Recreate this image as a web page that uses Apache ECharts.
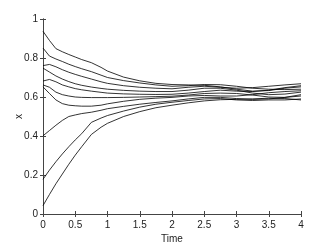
<!DOCTYPE html>
<html>
<head>
<meta charset="utf-8">
<script src="https://cdn.jsdelivr.net/npm/echarts@6/dist/echarts.min.js"></script>
<style>html,body{margin:0;padding:0;background:#fff}#c{width:332px;height:249px}</style>
</head>
<body>
<div id="c"></div>
<script>
var times = [0, 0.1, 0.2, 0.3, 0.4, 0.5, 0.6, 0.75, 0.9, 1, 1.25, 1.5, 1.75, 2, 2.25, 2.5, 2.75, 3, 3.25, 3.5, 3.75, 4];
var c1  = [0.937, 0.890, 0.848, 0.832, 0.818, 0.805, 0.792, 0.776, 0.752, 0.733, 0.702, 0.683, 0.670, 0.664, 0.662, 0.660, 0.652, 0.640, 0.630, 0.633, 0.645, 0.652];
var c2  = [0.851, 0.810, 0.795, 0.782, 0.768, 0.756, 0.745, 0.730, 0.712, 0.700, 0.684, 0.672, 0.662, 0.655, 0.658, 0.664, 0.663, 0.655, 0.645, 0.640, 0.638, 0.640];
var c3  = [0.761, 0.767, 0.755, 0.740, 0.727, 0.716, 0.706, 0.692, 0.678, 0.670, 0.658, 0.650, 0.645, 0.642, 0.650, 0.655, 0.650, 0.645, 0.648, 0.655, 0.662, 0.668];
var c4  = [0.748, 0.728, 0.708, 0.692, 0.679, 0.668, 0.660, 0.651, 0.644, 0.640, 0.634, 0.630, 0.628, 0.628, 0.635, 0.645, 0.645, 0.635, 0.620, 0.612, 0.615, 0.625];
var c5  = [0.682, 0.690, 0.678, 0.662, 0.652, 0.643, 0.637, 0.630, 0.624, 0.620, 0.616, 0.614, 0.613, 0.614, 0.620, 0.628, 0.635, 0.630, 0.628, 0.635, 0.648, 0.658];
var c6  = [0.662, 0.650, 0.625, 0.612, 0.605, 0.600, 0.598, 0.597, 0.597, 0.597, 0.598, 0.600, 0.602, 0.604, 0.610, 0.618, 0.620, 0.618, 0.610, 0.600, 0.598, 0.605];
var c7  = [0.652, 0.618, 0.585, 0.566, 0.558, 0.555, 0.553, 0.553, 0.558, 0.565, 0.578, 0.588, 0.594, 0.598, 0.605, 0.608, 0.605, 0.605, 0.612, 0.622, 0.628, 0.632];
var c8  = [0.401, 0.428, 0.455, 0.480, 0.500, 0.508, 0.515, 0.522, 0.532, 0.540, 0.552, 0.563, 0.572, 0.580, 0.590, 0.598, 0.598, 0.592, 0.588, 0.590, 0.598, 0.612];
var c9  = [0.178, 0.225, 0.268, 0.308, 0.345, 0.380, 0.412, 0.470, 0.492, 0.505, 0.528, 0.548, 0.563, 0.573, 0.582, 0.590, 0.592, 0.585, 0.582, 0.585, 0.585, 0.590];
var c10 = [0.043, 0.100, 0.155, 0.205, 0.255, 0.302, 0.345, 0.408, 0.445, 0.465, 0.500, 0.525, 0.545, 0.558, 0.570, 0.580, 0.586, 0.588, 0.590, 0.594, 0.592, 0.585];
var xTicks = [0, 0.5, 1, 1.5, 2, 2.5, 3, 3.5, 4];
var yTicks = [0, 0.2, 0.4, 0.6, 0.8, 1];
var xTitle = 'Time';
var yTitle = 'x';

var curves = [c1, c2, c3, c4, c5, c6, c7, c8, c9, c10];
var font = '"Liberation Sans", Arial, Helvetica, sans-serif';
var axisCol = '#444';
function pairs(arr) { return arr.map(function (v, i) { return [times[i], v]; }); }

var chart = echarts.init(document.getElementById('c'), null, {renderer: 'canvas'});
var baseX = {
  type: 'value', min: xTicks[0], max: xTicks[xTicks.length - 1], interval: 0.5,
  axisLine: {show: true, lineStyle: {color: axisCol, width: 1}},
  axisTick: {show: true, inside: true, length: 3, lineStyle: {color: axisCol}},
  splitLine: {show: false}
};
var baseY = {
  type: 'value', min: yTicks[0], max: yTicks[yTicks.length - 1], interval: 0.2,
  axisLine: {show: true, lineStyle: {color: axisCol, width: 1}},
  axisTick: {show: true, inside: true, length: 3, lineStyle: {color: axisCol}},
  splitLine: {show: false}
};
chart.setOption({
  animation: false,
  backgroundColor: '#fff',
  grid: {left: 43, right: 31, top: 19, bottom: 28},
  xAxis: [
    Object.assign({}, baseX, {
      position: 'bottom', name: xTitle, nameLocation: 'middle', nameGap: 20, nameMoveOverlap: false,
      nameTextStyle: {color: '#222', fontSize: 10, fontFamily: font},
      axisLabel: {color: '#222', fontSize: 10, fontFamily: font, margin: 6,
        formatter: function (v) { return String(v); }}
    }),
    Object.assign({}, baseX, {position: 'top', axisLabel: {show: false}})
  ],
  yAxis: [
    Object.assign({}, baseY, {
      position: 'left', name: yTitle, nameLocation: 'middle', nameGap: 19, nameRotate: 90, nameMoveOverlap: false,
      nameTextStyle: {color: '#222', fontSize: 10, fontFamily: font},
      axisLabel: {color: '#222', fontSize: 10, fontFamily: font, margin: 5,
        formatter: function (v) { return String(v); }}
    }),
    Object.assign({}, baseY, {position: 'right', axisLabel: {show: false}})
  ],
  series: curves.map(function (c) {
    return {type: 'line', data: pairs(c), showSymbol: false, symbol: 'none',
      lineStyle: {color: '#000', width: 0.8}, silent: true};
  })
});
</script>
</body>
</html>
